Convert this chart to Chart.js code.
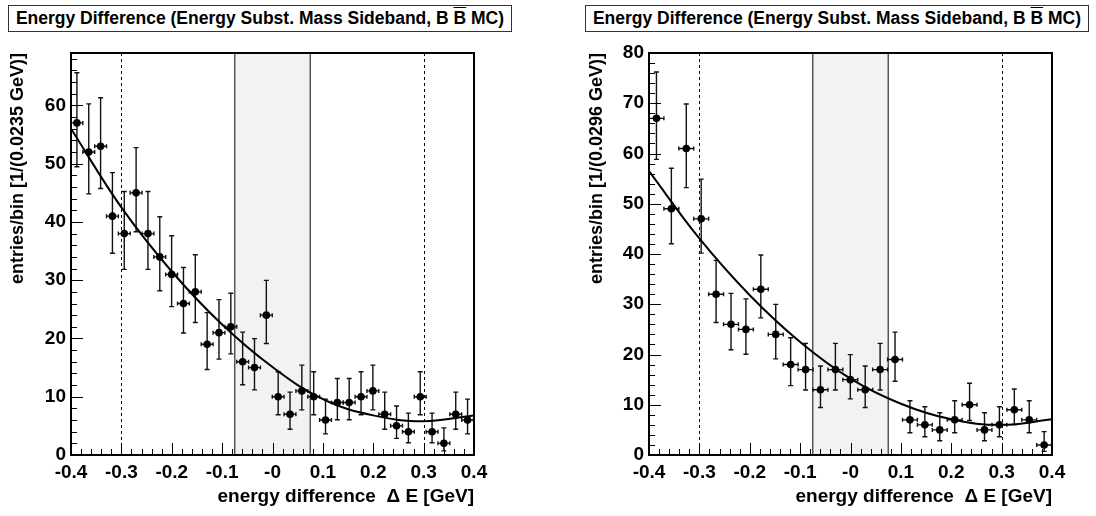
<!DOCTYPE html>
<html>
<head>
<meta charset="utf-8">
<script src="https://cdn.jsdelivr.net/npm/chart.js@4/dist/chart.umd.min.js"></script>
<style>
    body { margin: 0; background: #fff; width: 1096px; height: 516px; position: relative; overflow: hidden; font-family: "Liberation Sans", Arial, sans-serif; }
    .pad { position: absolute; top: 0; width: 548px; height: 516px; }
    .title { position: absolute; top: 5px; width: 504px; height: 27px; box-sizing: border-box; border: 1px solid #333; background: #fff;
             font-weight: bold; font-size: 17.5px; line-height: 25px; text-align: center; white-space: nowrap; }
    .bar { text-decoration: overline; }
</style>
</head>
<body>
<div class="pad" style="left:0"><canvas id="leftChart" width="548" height="516"></canvas></div>
<div class="pad" style="left:548px"><canvas id="rightChart" width="548" height="516"></canvas></div>
<div class="title" style="left:8px">Energy Difference (Energy Subst. Mass Sideband, B <span class="bar">B</span> MC)</div>
<div class="title" style="left:585px">Energy Difference (Energy Subst. Mass Sideband, B <span class="bar">B</span> MC)</div>
<script>
// histogram range and binning
const xMin = -0.4;
const xMax = 0.4;
const binWidthLeft = 0.0235;
const binWidthRight = 0.0296;

// entries per bin
const countsLeft = [57, 52, 53, 41, 38, 45, 38, 34, 31, 26, 28, 19, 21, 22, 16, 15, 24,
                    10, 7, 11, 10, 6, 9, 9, 10, 11, 7, 5, 4, 10, 4, 2, 7, 6];
const countsRight = [67, 49, 61, 47, 32, 26, 25, 33, 24, 18, 17, 13, 17, 15, 13, 17, 19,
                     7, 6, 5, 7, 10, 5, 6, 9, 7, 2];

const fitX = [-0.4, -0.3, -0.2, -0.1, 0, 0.1, 0.2, 0.3, 0.4];
const fitLeft = [56, 42.5, 31.5, 22.4, 15.1, 9.6, 6.8, 5.8, 6.8];
const fitRight = [56.5, 43.1, 31.8, 22.5, 15.2, 10.2, 7.1, 6.0, 7.1];

const xTickLabels = ['-0.4', '-0.3', '-0.2', '-0.1', '-0', '0.1', '0.2', '0.3', '0.4'];
const signalBand = [-0.075, 0.075];
const sidebandCuts = [-0.3, 0.3];

const FONT = 'Liberation Sans, Arial, sans-serif';

// poisson errors (Gehrels approximation)
function errUp(n) { return n + Math.sqrt(n + 0.75) + 1; }
function errDown(n) { return n * Math.pow(1 - 1 / (9 * n) - 1 / (3 * Math.sqrt(n)), 3); }

function histPlugin(counts, binWidth) {
    return {
        id: 'histPlugin',
        beforeDatasetsDraw(chart) {
            const { ctx, chartArea: a, scales: { x, y } } = chart;
            ctx.save();

            // signal region
            const b0 = x.getPixelForValue(signalBand[0]);
            const b1 = x.getPixelForValue(signalBand[1]);
            ctx.fillStyle = '#f2f2f2';
            ctx.fillRect(b0, a.top, b1 - b0, a.bottom - a.top);
            ctx.strokeStyle = '#555';
            ctx.lineWidth = 1.5;
            [b0, b1].forEach(px => {
                ctx.beginPath();
                ctx.moveTo(px, a.top);
                ctx.lineTo(px, a.bottom);
                ctx.stroke();
            });

            // sideband cuts
            ctx.strokeStyle = '#000';
            ctx.lineWidth = 1;
            ctx.setLineDash([3, 3]);
            sidebandCuts.forEach(v => {
                const px = Math.round(x.getPixelForValue(v)) + 0.5;
                ctx.beginPath();
                ctx.moveTo(px, a.top);
                ctx.lineTo(px, a.bottom);
                ctx.stroke();
            });
            ctx.setLineDash([]);

            // error bars
            ctx.strokeStyle = '#111';
            ctx.lineWidth = 1.4;
            counts.forEach((n, i) => {
                const xc = xMin + binWidth * (i + 0.5);
                const px = x.getPixelForValue(xc);
                const py = y.getPixelForValue(n);
                const pl = x.getPixelForValue(xc - binWidth / 2);
                const pr = x.getPixelForValue(xc + binWidth / 2);
                const pu = y.getPixelForValue(errUp(n));
                const pd = y.getPixelForValue(Math.max(errDown(n), 0));
                ctx.beginPath();
                ctx.moveTo(px, pu); ctx.lineTo(px, pd);
                ctx.moveTo(px - 2.5, pu); ctx.lineTo(px + 2.5, pu);
                ctx.moveTo(px - 2.5, pd); ctx.lineTo(px + 2.5, pd);
                ctx.moveTo(pl, py); ctx.lineTo(pr, py);
                ctx.moveTo(pl, py - 2); ctx.lineTo(pl, py + 2);
                ctx.moveTo(pr, py - 2); ctx.lineTo(pr, py + 2);
                ctx.stroke();
            });
            ctx.restore();
        },
        afterDraw(chart) {
            const { ctx, chartArea: a, scales: { x, y } } = chart;
            ctx.save();
            ctx.strokeStyle = '#000';
            ctx.lineWidth = 1;

            // inward ticks on x axis, minor every 0.02
            for (let i = 0; i <= 40; i++) {
                const px = Math.round(x.getPixelForValue(xMin + i * 0.02)) + 0.5;
                const len = i % 5 === 0 ? 12 : 6;
                ctx.beginPath();
                ctx.moveTo(px, a.bottom);
                ctx.lineTo(px, a.bottom - len);
                ctx.stroke();
            }
            // inward ticks on y axis, minor every 2
            for (let i = 0; i * 2 <= y.max; i++) {
                const py = Math.round(y.getPixelForValue(i * 2)) + 0.5;
                const len = i % 5 === 0 ? 12 : 6;
                ctx.beginPath();
                ctx.moveTo(a.left, py);
                ctx.lineTo(a.left + len, py);
                ctx.stroke();
            }

            // frame
            ctx.lineWidth = 2;
            ctx.strokeRect(a.left, a.top, a.right - a.left, a.bottom - a.top);
            ctx.restore();
        }
    };
}

function drawHist(canvasId, counts, binWidth, fitY, yMax, yTitle, yWidth, yTitlePad, padRight) {
    const ctx = document.getElementById(canvasId).getContext('2d');

    const points = counts.map((n, i) => ({ x: xMin + binWidth * (i + 0.5), y: n }));
    const fit = fitX.map((v, i) => ({ x: v, y: fitY[i] }));

    const tickFont = { family: FONT, size: 19, weight: 'bold' };

    new Chart(ctx, {
        type: 'scatter',
        data: {
            datasets: [
                {
                    type: 'line',
                    data: fit,
                    borderColor: '#000',
                    borderWidth: 2,
                    pointRadius: 0,
                    tension: 0.4,
                    fill: false,
                },
                {
                    data: points,
                    backgroundColor: '#000',
                    borderWidth: 0,
                    pointRadius: 3.8,
                },
            ],
        },
        options: {
            responsive: false,
            animation: false,
            layout: { padding: { top: 53, right: padRight, left: 0, bottom: 0 } },
            plugins: {
                legend: { display: false },
                tooltip: { enabled: false },
            },
            scales: {
                x: {
                    type: 'linear',
                    min: xMin,
                    max: xMax,
                    grid: { display: false, drawTicks: false },
                    border: { display: false },
                    ticks: {
                        stepSize: 0.1,
                        autoSkip: false,
                        maxRotation: 0,
                        padding: 6,
                        color: '#000',
                        font: tickFont,
                        callback: (v, i) => xTickLabels[i],
                    },
                    title: {
                        display: true,
                        text: 'energy difference  \u0394 E [GeV]',
                        align: 'end',
                        color: '#000',
                        font: { family: FONT, size: 19, weight: 'bold' },
                        padding: { top: 0, bottom: 8 },
                    },
                    afterFit: s => { s.height = 61; },
                },
                y: {
                    type: 'linear',
                    min: 0,
                    max: yMax,
                    grid: { display: false, drawTicks: false },
                    border: { display: false },
                    ticks: {
                        stepSize: 10,
                        includeBounds: false,
                        padding: 5,
                        color: '#000',
                        font: tickFont,
                    },
                    title: {
                        display: true,
                        text: yTitle,
                        align: 'end',
                        color: '#000',
                        font: { family: FONT, size: 18, weight: 'bold' },
                        padding: { top: yTitlePad, bottom: 0 },
                    },
                    afterFit: s => { s.width = yWidth; },
                },
            },
        },
        plugins: [histPlugin(counts, binWidth)],
    });
}

drawHist('leftChart', countsLeft, binWidthLeft, fitLeft, 69, 'entries/bin [1/(0.0235 GeV)]', 71, 7, 74);
drawHist('rightChart', countsRight, binWidthRight, fitRight, 80, 'entries/bin [1/(0.0296 GeV)]', 101, 38, 44);
</script>
</body>
</html>
